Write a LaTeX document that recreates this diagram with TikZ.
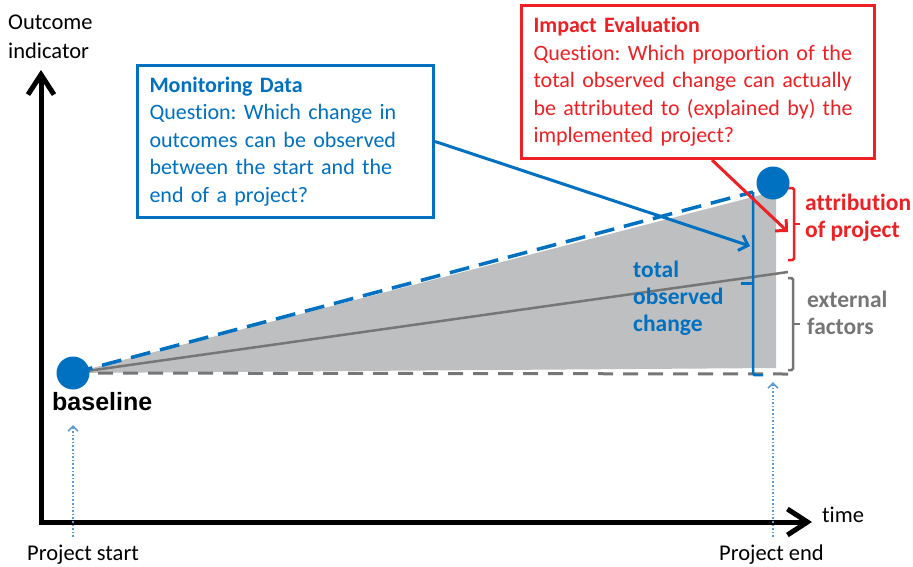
\documentclass[tikz,border=0pt]{standalone}
\usepackage{fontspec}
\setmainfont{Carlito}[Ligatures=NoCommon]
\newfontfamily\arialfont{Liberation Sans}
\usetikzlibrary{arrows.meta}
\definecolor{mblue}{RGB}{0,112,192}
\definecolor{mred}{RGB}{237,32,36}
\definecolor{dotblue}{RGB}{91,155,213}
\definecolor{areagrey}{RGB}{190,191,193}
\definecolor{lgrey}{RGB}{118,118,118}
\newcommand{\qfont}{\fontsize{22}{27.5}\selectfont}
\newcommand{\afont}{\fontsize{22.5}{29}\selectfont}
\newcommand{\bfont}{\fontsize{23.5}{27}\selectfont\bfseries}
\frenchspacing
\begin{document}
\begin{tikzpicture}[x=1pt, y=-1pt,
  axis/.style={line width=5pt, line join=miter, {Straight Barb[length=20pt,width=26pt]}-{Straight Barb[length=20pt,width=26pt]}},
  qbox/.style={draw, line width=3pt, anchor=north west, align=left, inner xsep=12pt, inner ysep=0pt, font=\qfont},
  lbl/.style={anchor=base west, align=left, inner sep=0pt},
  dot/.style={circle, fill=mblue, minimum size=33pt, inner sep=0pt},
  pointer/.style={line width=3pt, -{Straight Barb[length=8pt,width=16pt]}},
  timeline/.style={dotblue, line width=1.6pt, dotted, -{Straight Barb[length=5pt,width=10pt]}},
  brace/.style={line width=2.5pt, rounded corners=1.5pt}]
\useasboundingbox (0,0) rectangle (913,566);

\coordinate (o) at (73,373);
\coordinate (top) at (753,192);
\coordinate (ext) at (788,272);
\coordinate (e) at (773,183);

% observed change
\fill[areagrey] (o) -- (776,191) -- (776,368) -- cycle;
\draw[lgrey, line width=3pt, dash pattern=on 15pt off 10pt] (o) -- (789,374);
\draw[lgrey, line width=2.5pt] (o) -- (ext);
\draw[mblue, line width=3.5pt, dash pattern=on 20pt off 10pt] (o) -- (top);
\draw[mblue, brace] (top) -- (753,375) -- (763,375);
\draw[mblue, line width=3pt] (753,283) -- (741,283);
\draw[mred, brace] (788,188) -- (794,188) -- (794,260) -- (788,260);
\draw[mred, line width=2.5pt] (794,224) -- (800,224);
\draw[lgrey, brace] (788,278) -- (793,278) -- (793,370) -- (788,370);
\draw[lgrey, line width=2.5pt] (793,324) -- (800,324);

\node[dot] (base) at (o) {};
\node[dot] (endpt) at (e) {};

% axes
\draw[axis] (41,70) |- (812,522);
\node[lbl, font=\afont] (yl) at (8,58) {Outcome\\indicator};
\node[lbl, font=\afont] (xl) at (822,522) {time};

\node[lbl, font=\arialfont\fontsize{25}{28}\selectfont\bfseries] (bl) at (52,410) {baseline};
\node[lbl, font=\afont] (ps) at (27,560) {Project start};
\node[lbl, font=\afont] (pe) at (719,560) {Project end};
\draw[timeline] (73,537) -- (73,425);
\draw[timeline] (773,537) -- (773,382);

\node[lbl, font=\bfont, text=mblue] (tot) at (633,331) {total\\observed\\change};
\node[lbl, font=\bfont, text=mred] (att) at (805,237) {attribution\\of project};
\node[lbl, font=\bfont, text=lgrey] (exf) at (807,334) {external\\factors};

% questions
\node[qbox, draw=mblue, text=mblue, text width=272pt, minimum height=152pt] (mon) at (136,64)
  {\textbf{Monitoring Data}\\Question: Which change in\\outcomes can be observed\\between the start and the\\end of a project?};
\node[qbox, draw=mred, text=mred, text width=329pt, minimum height=153pt] (imp) at (520,4)
  {\textbf{Impact Evaluation}\\Question: Which proportion of the\\total observed change can actually\\be attributed to (explained by) the\\implemented project?};

\draw[mblue, pointer] (mon.east) -- (750,246);
\draw[mred, pointer] ([xshift=14pt]imp.south) -- (788,232);
\end{tikzpicture}
\end{document}
